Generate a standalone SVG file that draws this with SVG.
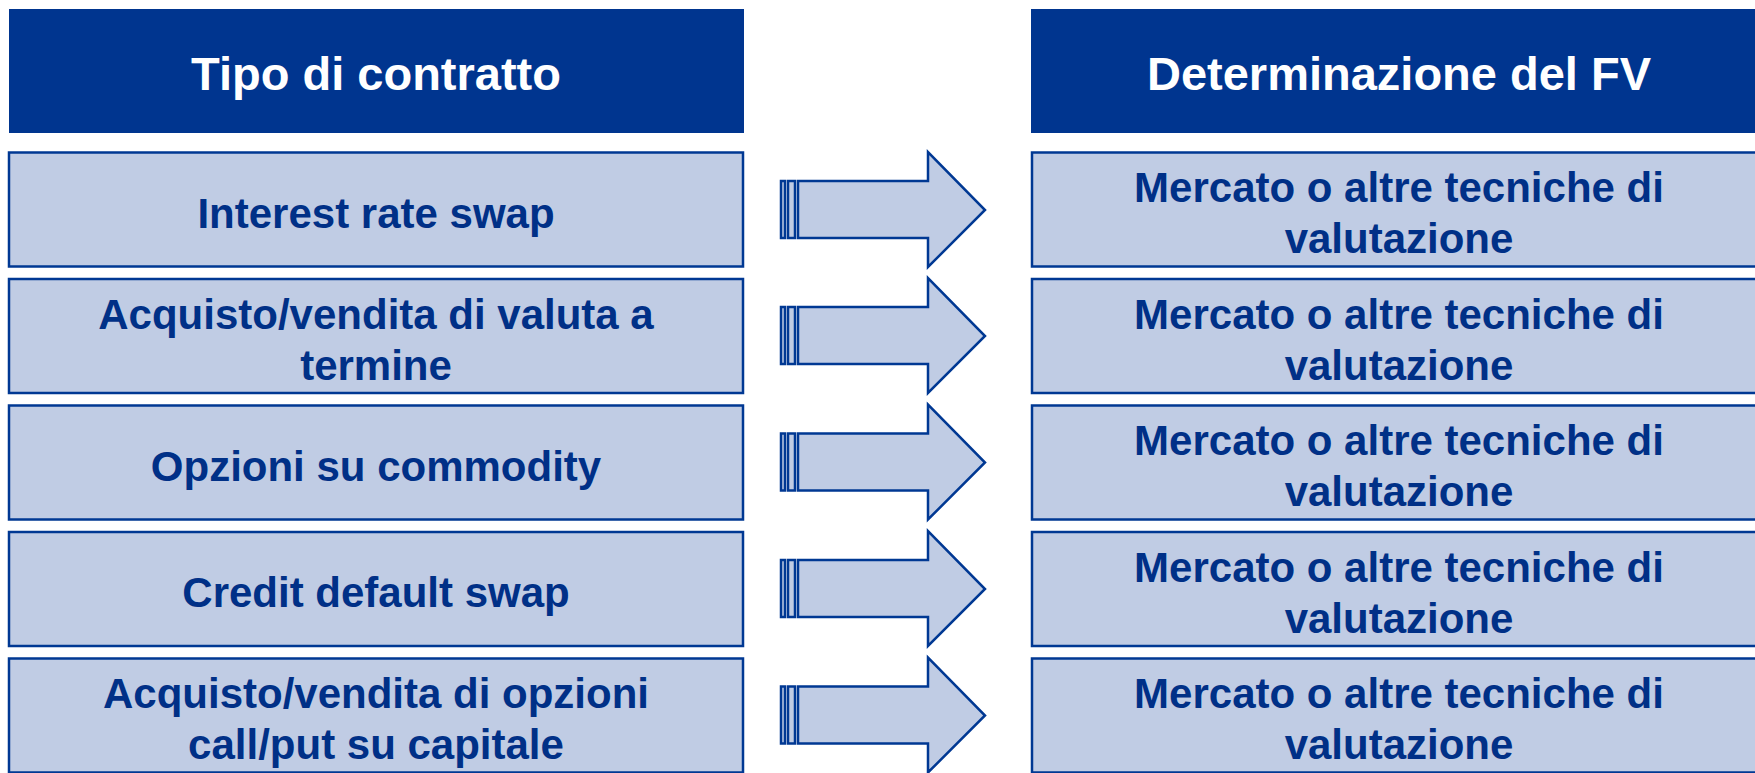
<svg xmlns="http://www.w3.org/2000/svg" width="1755" height="773" viewBox="0 0 1755 773">
  <style>
    .hdr { fill: #00358F; }
    .hdr-t { fill: #FFFFFF; font-family: "Liberation Sans", Arial, sans-serif; font-weight: bold; font-size: 47px; text-anchor: middle; }
    .box { fill: #C0CCE4; stroke: #003893; stroke-width: 2.5; }
    .txt { fill: #003087; font-family: "Liberation Sans", Arial, sans-serif; font-weight: bold; font-size: 42px; text-anchor: middle; }
    .arw { fill: #C0CCE4; stroke: #003893; stroke-width: 2.5; stroke-linejoin: miter; }
  </style>
  <defs>
    <!-- striped block arrow, centred vertically on y=0 -->
    <g id="striped-arrow">
      <rect class="arw" x="781" y="-29" width="4" height="57"/>
      <rect class="arw" x="788" y="-29" width="7" height="57"/>
      <polygon class="arw" points="798,-29 928,-29 928,-58 985,0 928,57 928,28 798,28"/>
    </g>
  </defs>

  <rect width="1755" height="773" fill="#FFFFFF"/>

  <!-- column headers -->
  <g id="header-left">
    <rect class="hdr" x="9" y="9" width="735" height="124"/>
    <text class="hdr-t" x="376" y="90">Tipo di contratto</text>
  </g>
  <g id="header-right">
    <rect class="hdr" x="1031" y="9" width="740" height="124"/>
    <text class="hdr-t" x="1399" y="90">Determinazione del FV</text>
  </g>

  <!-- contract types -->
  <g id="contract-1">
    <rect class="box" x="9" y="152.5" width="734" height="114"/>
    <text class="txt" x="376" y="228">Interest rate swap</text>
  </g>
  <g id="contract-2">
    <rect class="box" x="9" y="279" width="734" height="114"/>
    <text class="txt" x="376" y="329">Acquisto/vendita di valuta a</text>
    <text class="txt" x="376" y="380">termine</text>
  </g>
  <g id="contract-3">
    <rect class="box" x="9" y="405.5" width="734" height="114"/>
    <text class="txt" x="376" y="481">Opzioni su commodity</text>
  </g>
  <g id="contract-4">
    <rect class="box" x="9" y="532" width="734" height="114"/>
    <text class="txt" x="376" y="607">Credit default swap</text>
  </g>
  <g id="contract-5">
    <rect class="box" x="9" y="658.5" width="734" height="114"/>
    <text class="txt" x="376" y="708">Acquisto/vendita di opzioni</text>
    <text class="txt" x="376" y="759">call/put su capitale</text>
  </g>

  <!-- fair value methods -->
  <g id="fv-1">
    <rect class="box" x="1032" y="152.5" width="734" height="114"/>
    <text class="txt" x="1399" y="202">Mercato o altre tecniche di</text>
    <text class="txt" x="1399" y="253">valutazione</text>
  </g>
  <g id="fv-2">
    <rect class="box" x="1032" y="279" width="734" height="114"/>
    <text class="txt" x="1399" y="328.5">Mercato o altre tecniche di</text>
    <text class="txt" x="1399" y="379.5">valutazione</text>
  </g>
  <g id="fv-3">
    <rect class="box" x="1032" y="405.5" width="734" height="114"/>
    <text class="txt" x="1399" y="455">Mercato o altre tecniche di</text>
    <text class="txt" x="1399" y="506">valutazione</text>
  </g>
  <g id="fv-4">
    <rect class="box" x="1032" y="532" width="734" height="114"/>
    <text class="txt" x="1399" y="581.5">Mercato o altre tecniche di</text>
    <text class="txt" x="1399" y="632.5">valutazione</text>
  </g>
  <g id="fv-5">
    <rect class="box" x="1032" y="658.5" width="734" height="114"/>
    <text class="txt" x="1399" y="708">Mercato o altre tecniche di</text>
    <text class="txt" x="1399" y="759">valutazione</text>
  </g>

  <!-- connectors -->
  <g id="connectors">
    <use href="#striped-arrow" transform="translate(0,210)"/>
    <use href="#striped-arrow" transform="translate(0,336)"/>
    <use href="#striped-arrow" transform="translate(0,462.5)"/>
    <use href="#striped-arrow" transform="translate(0,589)"/>
    <use href="#striped-arrow" transform="translate(0,715.5)"/>
  </g>
</svg>
